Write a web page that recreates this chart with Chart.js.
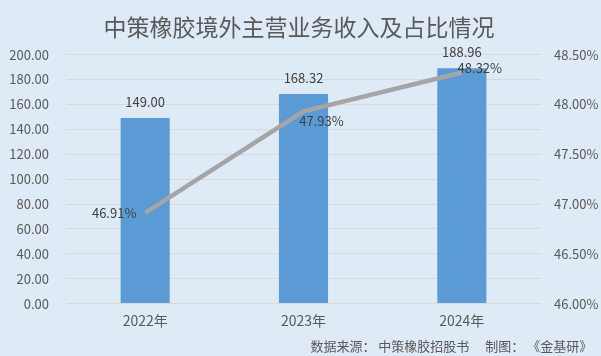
<!DOCTYPE html>
<html><head><meta charset="utf-8">
<script src="https://cdn.jsdelivr.net/npm/chart.js@4"></script>
<style>html,body{margin:0;padding:0;background:#deeaf6;}canvas{display:block;}</style>
</head><body>
<canvas id="c" width="601" height="356"></canvas>
<script>
const categories = ['2022年', '2023年', '2024年'];
const revenue = [149.00, 168.32, 188.96];
const share = [46.91, 47.93, 48.32];
const leftAxis = { min: 0, max: 200, step: 20 };
const rightAxis = { min: 46, max: 48.5, step: 0.5 };
const titleText = '中策橡胶境外主营业务收入及占比情况';
const sourceText = '数据来源： 中策橡胶招股书　 制图： 《金基研》  ';

const FONT = '"Noto Sans CJK SC", "Noto Sans", sans-serif';

const labelPlugin = {
  id: 'valueLabels',
  afterDatasetsDraw(chart) {
    const ctx = chart.ctx;
    ctx.save();
    ctx.font = '13px ' + FONT;
    ctx.fillStyle = '#404040';
    ctx.textAlign = 'center';
    ctx.textBaseline = 'middle';
    chart.getDatasetMeta(1).data.forEach((el, i) => {
      ctx.fillText(revenue[i].toFixed(2), el.x, el.y - 16);
    });
    const offs = [[-31, 0], [18, 10], [18, -4]];
    chart.getDatasetMeta(0).data.forEach((el, i) => {
      ctx.fillText(share[i].toFixed(2) + '%', el.x + offs[i][0], el.y + offs[i][1]);
    });
    ctx.restore();
  }
};

new Chart(document.getElementById('c'), {
  data: {
    labels: categories,
    datasets: [
      {
        type: 'line',
        data: share,
        yAxisID: 'y1',
        borderColor: '#a5a5a5',
        borderWidth: 4.5,
        pointRadius: 0,
        tension: 0,
        order: 0
      },
      {
        type: 'bar',
        data: revenue,
        yAxisID: 'y',
        backgroundColor: '#5b9bd5',
        categoryPercentage: 1,
        barPercentage: 0.31,
        order: 1
      }
    ]
  },
  options: {
    responsive: false,
    animation: false,
    layout: { padding: { left: 0, right: 3, top: 0, bottom: 2 } },
    plugins: {
      legend: { display: false },
      tooltip: { enabled: false },
      title: {
        display: true,
        text: titleText,
        color: '#595959',
        font: { family: FONT, size: 23, weight: 'normal' },
        padding: { top: 13, bottom: 14 }
      },
      subtitle: {
        display: true,
        text: sourceText,
        position: 'bottom',
        align: 'end',
        color: '#595959',
        font: { family: FONT, size: 13, weight: 'normal' },
        padding: { top: 1, bottom: 0 }
      }
    },
    scales: {
      x: {
        grid: { display: false, drawTicks: false },
        border: { display: false },
        ticks: { color: '#595959', font: { family: FONT, size: 14 }, padding: 8.5 }
      },
      y: {
        position: 'left',
        min: leftAxis.min, max: leftAxis.max,
        ticks: {
          stepSize: leftAxis.step,
          color: '#595959',
          font: { family: FONT, size: 13 },
          padding: 17,
          callback: v => v.toFixed(2)
        },
        grid: { color: '#d9d9d9', lineWidth: 1, drawTicks: false },
        border: { display: false },
        afterFit(s) { s.width = 66; }
      },
      y1: {
        position: 'right',
        min: rightAxis.min, max: rightAxis.max,
        ticks: {
          stepSize: rightAxis.step,
          color: '#595959',
          font: { family: FONT, size: 13 },
          padding: 13,
          callback: v => v.toFixed(2) + '%'
        },
        grid: { display: false, drawTicks: false },
        border: { display: false },
        afterFit(s) { s.width = 57; }
      }
    }
  },
  plugins: [labelPlugin]
});
</script>
</body></html>
